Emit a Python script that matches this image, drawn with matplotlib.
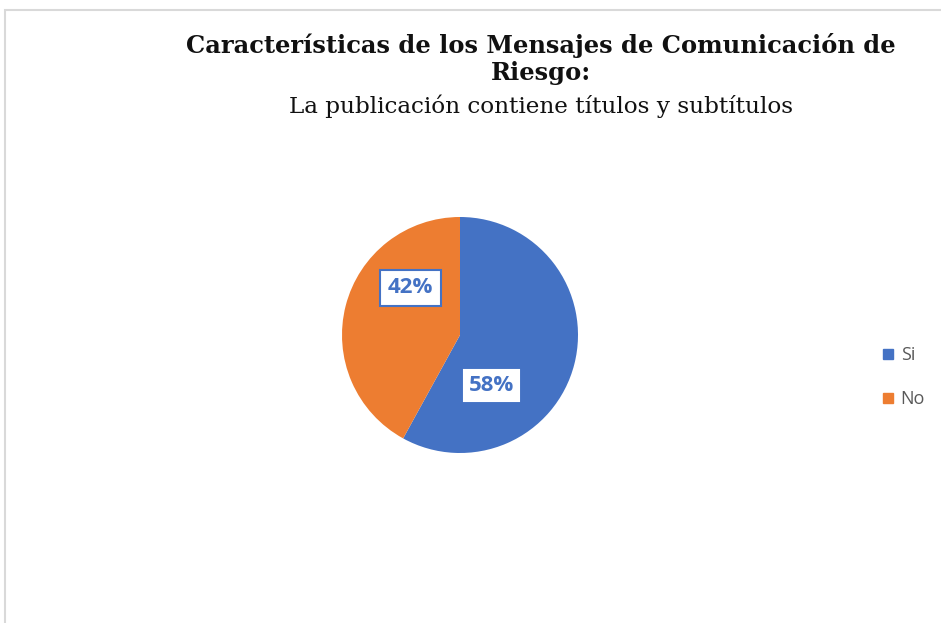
import matplotlib.pyplot as plt
from matplotlib.patches import Rectangle
from matplotlib.lines import Line2D

categories = ['Si', 'No']
shares = [58, 42]
colors = ['#4472C4', '#ED7D31']

title_main = 'Características de los Mensajes de Comunicación de\nRiesgo:'
title_sub = 'La publicación contiene títulos y subtítulos'

W, H = 941, 623
fig = plt.figure(figsize=(W / 100, H / 100), dpi=100)

# chart frame (only left and top edges are visible)
fig.add_artist(Rectangle((5 / W, -0.1), 1.1, 1.1 - 10 / H, transform=fig.transFigure,
                         fill=False, edgecolor='#D9D9D9', linewidth=1.5))

fig.text(541 / W, 1 - 59 / H, title_main, ha='center', va='center', family='DejaVu Serif',
         fontweight='bold', fontsize=17.4, linespacing=1.15, color='#111111')
fig.text(541 / W, 1 - 106 / H, title_sub, ha='center', va='center', family='DejaVu Serif',
         fontsize=16.7, color='#111111')

# pie axes: center (460, 335) px, radius 118 px
cx, cy, r = 460, 335, 118
ax = fig.add_axes([(cx - r) / W, (H - cy - r) / H, 2 * r / W, 2 * r / H])
wedges, texts, autotexts = ax.pie(shares, colors=colors, startangle=90, counterclock=False,
                                  autopct='%1.0f%%', radius=1,
                                  textprops=dict(family='Open Sans', fontweight='bold',
                                                 fontsize=16, color='#4472C4'))
ax.set_xlim(-1, 1)
ax.set_ylim(-1, 1)
ax.set_aspect('equal')

label_pos = [(0.27, -0.43), (-0.42, 0.40)]
edge = ['white', '#4472C4']
pads = [0.22, 0.35]
for t, p, ec, pad in zip(autotexts, label_pos, edge, pads):
    t.set_position(p)
    t.set_ha('center')
    t.set_va('center')
    t.set_bbox(dict(boxstyle='square,pad=%s' % pad, facecolor='white', edgecolor=ec,
                    linewidth=1.5))

handles = [Line2D([], [], marker='s', linestyle='none', markersize=7, markerfacecolor=c,
                  markeredgecolor=c) for c in colors]
fig.legend(handles, categories, loc='center left', bbox_to_anchor=(861 / W, 1 - 377 / H),
           frameon=False, handletextpad=0.1, labelspacing=1.45,
           prop=dict(family='Open Sans', size=13), labelcolor='#595959', handlelength=1.2)

fig.savefig('out.png', dpi=100)
